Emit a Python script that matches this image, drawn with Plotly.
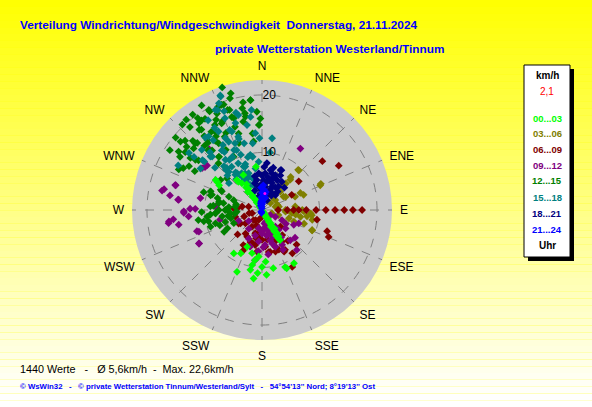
import plotly.graph_objects as go

# ---------------- data (direction in degrees, speed in km/h) ----------------
dir_00_03 = [148, 150, 147, 149, 151, 146, 148, 150, 147, 149, 152, 148, 146, 150, 149, 147, 151, 148, 150, 149,
             328, 326, 329, 325, 327, 330, 324, 328, 326, 322, 327, 325, 329, 323, 320,
             213, 206, 202, 191, 187, 190, 188, 176, 176, 169, 158, 157, 149, 193, 184, 180, 202, 184,
             302, 300, 303, 352, 332, 320]
spd_00_03 = [0.3, 0.6, 0.9, 1.2, 1.5, 1.8, 2.1, 2.4, 2.7, 3.0, 3.3, 3.6, 3.9, 4.2, 4.5, 4.8, 5.1, 5.4, 5.7, 6.1,
             0.4, 0.8, 1.2, 1.6, 2.0, 2.4, 2.8, 3.2, 3.6, 4.0, 4.4, 4.8, 5.2, 5.8, 6.4,
             9.0, 8.4, 11.6, 10.6, 12.0, 9.7, 8.8, 9.0, 11.3, 10.3, 10.7, 11.0, 10.8, 7.7, 8.1, 9.9, 6.9, 11.0,
             9.2, 8.6, 9.6, 7.6, 6.9, 6.8]

dir_03_06 = [42, 43, 39, 67, 66, 68, 58, 53, 79, 90, 96, 100, 98, 96, 90, 107, 51, 27, 112, 108,
             107, 84, 76, 120, 110, 70, 11, 45, 72, 38, 61, 72, 94, 98, 108, 94, 112, 43, 41, 42, 66, 101, 92]
spd_03_06 = [9.4, 7.2, 5.6, 11.0, 7.3, 6.2, 4.4, 2.9, 3.0, 4.1, 5.2, 6.8, 7.9, 8.7, 7.0, 4.9, 1.9, 1.9, 9.4, 1.8,
             3.0, 5.8, 2.4, 4.7, 5.9, 7.7, 3.0, 4.5, 2.8, 2.9, 4.7, 2.8, 4.1, 5.9, 7.7, 8.5, 9.4, 9.4, 7.6, 6.2, 11.2, 8.9, 7.3]

dir_06_09 = [90, 90, 90, 90, 90, 90, 90, 90, 90, 90, 90,
             51, 60, 52, 63, 100, 108, 112,
             211, 196, 198, 166, 164, 160, 157, 150, 145, 148, 208, 200, 209, 191, 180, 162, 150, 190,
             252, 231, 240, 256, 284, 169, 175, 187, 132, 220, 180, 273, 280, 144, 151,
             250, 256, 238, 212, 204, 196, 186, 171, 162, 152, 152, 274, 141,
             200, 215, 225, 185, 170, 155, 140, 135, 205, 192]
spd_06_09 = [2.8, 4.4, 5.5, 6.4, 7.7, 9.4, 11.1, 12.7, 14.3, 15.8, 17.4,
             13.5, 15.4, 8.1, 5.8, 9.7, 11.9, 12.5,
             3.4, 4.2, 1.8, 2.4, 4.2, 6.8, 7.5, 8.0, 9.2, 6.5, 6.9, 5.9, 5.3, 6.2, 5.2, 5.5, 4.7, 3.2,
             1.8, 3.7, 4.7, 4.8, 2.4, 7.4, 6.4, 7.3, 4.3, 2.3, 1.2, 4.9, 3.5, 3.9, 3.0,
             3.3, 2.3, 4.4, 2.1, 7.0, 6.0, 4.7, 7.4, 7.6, 8.2, 11.2, 4.3, 5.6,
             2.8, 5.0, 6.0, 3.8, 5.2, 5.8, 7.0, 8.5, 7.8, 5.0]

dir_09_12 = [281, 286, 279, 277, 269, 271, 265, 262, 260, 264, 252, 242, 281, 271, 307, 319, 305, 309, 282, 286,
             274, 257, 268, 263, 251, 242, 277,
             169, 162, 159, 149, 150, 180, 186, 175, 163, 188, 137, 149, 128, 115, 110, 117, 117, 121, 198, 139, 160, 141,
             32, 185, 170, 155,
             175, 170, 165, 178, 155, 160, 145, 140, 185, 172, 152, 190, 195, 205, 215, 230, 245, 120, 130, 165]
spd_09_12 = [17.7, 15.7, 16.2, 14.6, 13.6, 12.5, 12.8, 16.4, 14.7, 15.5, 11.9, 12.4, 10.9, 11.6, 12.4, 14.0, 12.7, 12.3, 17.4, 15.6,
             8.1, 7.5, 13.6, 16.3, 11.6, 12.4, 14.7,
             3.0, 3.7, 5.0, 5.1, 7.0, 4.1, 5.5, 6.1, 6.1, 8.8, 7.2, 6.1, 5.2, 6.1, 6.8, 2.6, 3.9, 1.7, 6.7, 9.2, 4.3, 3.7,
             12.6, 3.5, 2.4, 4.6,
             3.5, 4.5, 5.5, 6.5, 4.0, 6.8, 5.8, 4.5, 7.2, 7.8, 7.8, 3.2, 4.6, 5.5, 4.0, 3.0, 4.5, 4.8, 7.5, 2.2]

dir_12_15 = [342, 354, 332, 337, 342, 350, 359, 358, 353, 328, 324, 319, 317, 310, 303, 305, 310, 306, 296, 307,
             318, 327, 333, 342, 343, 331, 336, 327, 322, 316, 321, 321, 329, 317, 312, 341, 348,
             315, 325, 330, 320, 312, 308, 300, 318, 326, 335, 340, 345, 350, 310, 303, 298, 323, 329,
             344, 324, 332, 335, 342, 350, 358, 354, 322, 322, 328, 335, 343, 353, 307, 315, 320, 332, 321, 301,
             357, 326, 333, 341, 349, 339,
             287, 287, 274, 266, 279, 261, 270, 264, 254, 292, 245, 295, 312, 263, 252, 277, 261, 289, 266, 306,
             270, 275, 265, 280, 260, 285, 268, 258, 250, 290, 296, 275, 262, 282,
             286, 266, 259, 252, 240, 242, 255, 281, 270]
spd_12_15 = [22.4, 19.2, 19.7, 19.5, 18.3, 17.1, 15.9, 14.8, 13.4, 18.7, 18.7, 19.1, 20.3, 19.6, 19.1, 17.7, 17.1, 15.4, 16.1, 14.5,
             14.0, 13.8, 14.3, 15.2, 16.7, 16.9, 16.9, 16.2, 16.3, 16.2, 15.0, 11.9, 12.2, 11.1, 18.0, 12.3, 15.7,
             17.0, 19.5, 21.0, 20.5, 16.0, 14.0, 13.5, 15.0, 14.5, 18.5, 19.5, 21.0, 19.0, 18.5, 17.0, 15.5, 17.5, 16.0,
             20.2, 20.5, 19.4, 16.6, 17.0, 16.5, 14.8, 19.2, 17.7, 15.4, 15.1, 14.8, 13.9, 12.0, 16.7, 16.4, 13.5, 10.5, 11.9, 14.8,
             17.1, 18.8, 17.6, 18.4, 18.0, 19.6,
             10.6, 9.1, 9.0, 8.1, 7.6, 7.0, 6.4, 5.5, 8.4, 6.2, 5.4, 7.7, 8.2, 9.6, 6.7, 4.7, 11.2, 5.2, 4.4, 8.9,
             7.5, 8.5, 9.0, 6.8, 6.0, 8.0, 10.5, 9.5, 7.8, 9.5, 8.0, 5.8, 4.8, 4.6,
             9.3, 8.1, 10.3, 9.4, 7.6, 6.8, 5.6, 7.6, 6.0]

dir_15_18 = [340, 338, 339, 354, 346, 8, 8, 352, 355, 339, 334, 331, 324, 315, 326, 317, 298, 308, 304, 324,
             331, 337, 345, 325, 333, 339, 331, 323, 340, 343, 351, 331, 356, 319, 319, 335, 344, 329, 325, 342,
             350, 343, 338, 348, 339,
             330, 335, 325, 340, 345, 320, 330, 335, 327, 342, 318, 333, 338, 322, 330, 345, 336, 328, 338, 345,
             332, 326, 320, 315, 312, 310,
             340, 335, 353, 338, 329, 316, 327, 337, 350, 326, 318, 332, 309, 310, 308, 358]
spd_15_18 = [21.2, 20.0, 18.4, 17.5, 17.0, 12.6, 10.1, 11.7, 13.4, 14.6, 13.2, 15.6, 15.8, 14.8, 12.5, 12.7, 16.5, 16.1, 12.9, 10.8,
             10.6, 11.3, 12.0, 9.2, 9.1, 8.1, 7.3, 7.7, 6.8, 5.8, 7.3, 6.0, 8.4, 8.8, 10.1, 4.8, 4.2, 18.2, 14.8, 13.4,
             15.0, 15.8, 17.2, 9.8, 10.3,
             6.5, 7.0, 8.0, 8.5, 9.5, 9.5, 10.5, 11.5, 12.0, 13.0, 13.5, 14.0, 15.0, 16.0, 16.5, 17.5, 19.0, 7.2, 6.2, 5.5,
             5.2, 6.0, 7.0, 8.5, 11.0, 13.5,
             21.0, 19.2, 16.3, 12.5, 13.2, 12.9, 10.4, 8.2, 9.4, 7.7, 9.4, 5.9, 7.4, 13.1, 15.0, 12.5]

dir_18_21 = [355, 5, 15, 350, 3, 15, 27, 352, 8, 23, 35, 354, 17, 31, 0, 27, 12, 6, 25, 21, 35,
             0, 10, 20, 30, 358, 10, 22, 5, 15, 345, 348, 0, 10, 20, 28, 40, 45, 3, 15, 340, 350, 33, 42, 26]
spd_18_21 = [6.4, 6.4, 6.6, 5.3, 5.2, 5.4, 5.8, 4.1, 4.1, 4.4, 5.0, 2.9, 3.0, 3.4, 1.7, 1.9, 7.1, 8.2, 7.65, 6.5, 6.0,
             4.6, 5.0, 5.0, 4.6, 3.5, 3.5, 3.8, 2.3, 2.5, 4.8, 6.0, 6.0, 5.8, 6.0, 6.8, 4.2, 5.5, 7.5, 7.6, 3.6, 2.5, 3.0, 3.5, 7.7]

dir_21_24 = [355, 350, 0, 5, 355, 2, 8, 358, 5, 10, 0, 350, 200, 190, 345, 15, 12, 6, 358, 3]
spd_21_24 = [0.3, 0.6, 1.0, 1.3, 1.5, 1.8, 2.0, 2.2, 2.5, 2.8, 3.0, 1.2, 0.3, 0.5, 0.8, 2.2, 3.2, 3.5, 3.9, 4.3]

current_dir = [10]
current_spd = [2.9]

series_labels = ["00...03", "03...06", "06...09", "09...12", "12...15", "15...18", "18...21", "21...24"]
compass = ["N", "NNE", "NE", "ENE", "E", "ESE", "SE", "SSE", "S", "SSW", "SW", "WSW", "W", "WNW", "NW", "NNW"]
compass_deg = [0, 22.5, 45, 67.5, 90, 112.5, 135, 157.5, 180, 202.5, 225, 247.5, 270, 292.5, 315, 337.5]
radial_ticks = [10, 20]
r_max = 22.6

colors = {
    "00...03": "#00FF00", "03...06": "#808000", "06...09": "#800000", "09...12": "#800080",
    "12...15": "#008000", "15...18": "#008080", "18...21": "#000080", "21...24": "#0000FF",
}
data = {
    "00...03": (dir_00_03, spd_00_03), "03...06": (dir_03_06, spd_03_06),
    "06...09": (dir_06_09, spd_06_09), "09...12": (dir_09_12, spd_09_12),
    "12...15": (dir_12_15, spd_12_15), "15...18": (dir_15_18, spd_15_18),
    "18...21": (dir_18_21, spd_18_21), "21...24": (dir_21_24, spd_21_24),
}
draw_order = ["03...06", "06...09", "09...12", "12...15", "15...18", "00...03", "18...21", "21...24"]

W, H = 592, 407
fig = go.Figure()
for key in draw_order:
    d, s = data[key]
    fig.add_trace(go.Scatterpolar(
        theta=d, r=s, mode="markers", name=key,
        marker=dict(symbol="diamond", size=6, color=colors[key], line=dict(width=0)),
        hoverinfo="skip"))
fig.add_trace(go.Scatterpolar(theta=current_dir, r=current_spd, mode="markers",
                              marker=dict(symbol="circle", size=3, color="#FF00FF"), hoverinfo="skip"))

cx, cy, rad = 262, 210, 130
fig.update_layout(
    width=W, height=H, autosize=False,
    margin=dict(l=0, r=0, t=0, b=0),
    paper_bgcolor="#FFFF00",
    showlegend=False,
    font=dict(family="Arial", size=12, color="black"),
    polar=dict(
        domain=dict(x=[(cx - rad) / W, (cx + rad) / W], y=[1 - (cy + rad) / H, 1 - (cy - rad) / H]),
        bgcolor="#CBCBCB",
        angularaxis=dict(rotation=90, direction="clockwise", tickmode="array",
                         tickvals=compass_deg, ticktext=compass, showline=False,
                         ticks="outside", ticklen=5, tickcolor="rgba(0,0,0,0)",
                         gridcolor="#808080", griddash="dash", gridwidth=1,
                         tickfont=dict(family="Arial", size=12, color="black")),
        radialaxis=dict(range=[0, r_max], tickmode="array", tickvals=radial_ticks,
                        ticktext=[str(v) for v in radial_ticks], showline=False, ticks="",
                        angle=90, tickangle=90, side="clockwise",
                        gridcolor="#808080", griddash="dash", gridwidth=1,
                        tickfont=dict(family="Arial", size=12, color="black")),
    ),
)

# background vertical gradient (yellow -> pale)
shapes = []
n = 60
for i in range(n):
    t = (i + 0.5) / n
    b = int(round(255 * min(1.0, t * 1.02)))
    shapes.append(dict(type="rect", xref="paper", yref="paper", x0=0, x1=1,
                       y0=1 - (i + 1) / n, y1=1 - i / n, layer="below",
                       fillcolor=f"rgb(255,255,{b})", line=dict(width=0)))
# legend box with shadow
bx0, by0, bx1, by1 = 524, 65, 570, 257
shapes.append(dict(type="rect", xref="paper", yref="paper",
                   x0=(bx0 + 4) / W, x1=(bx1 + 4) / W, y0=1 - (by1 + 4) / H, y1=1 - (by0 + 4) / H,
                   fillcolor="black", line=dict(width=0)))
shapes.append(dict(type="rect", xref="paper", yref="paper",
                   x0=bx0 / W, x1=bx1 / W, y0=1 - by1 / H, y1=1 - by0 / H,
                   fillcolor="white", line=dict(color="black", width=1)))
fig.update_layout(shapes=shapes)

def ann(text, x, y, color="black", size=12, bold=False, xanchor="left"):
    fig.add_annotation(text=text, x=x / W, y=1 - y / H, xref="paper", yref="paper",
                       xanchor=xanchor, yanchor="middle", showarrow=False,
                       font=dict(family="Arial", size=size, color=color, weight="bold" if bold else "normal"))

nb = "\u00a0"
ann("Verteilung Windrichtung/Windgeschwindigkeit" + nb * 2 + "Donnerstag, 21.11.2024", 18, 25, "#0000FF", 11.8, True)
ann("private Wetterstation Westerland/Tinnum", 213, 49, "#0000FF", 11.8, True)
ann("1440 Werte" + nb * 3 + "-" + nb * 3 + "Ø 5,6km/h" + nb * 2 + "-" + nb * 2 + "Max. 22,6km/h", 18, 369, "black", 10.8)
ann("© WsWin32" + nb * 3 + "-" + nb * 3 + "© private Wetterstation Tinnum/Westerland/Sylt" + nb * 3 + "-" + nb * 3
    + "54°54'13'' Nord; 8°19'13'' Ost", 18, 386, "#0000FF", 7.8, True)

lx = 547
ann("km/h", lx, 75, "black", 10, True, "center")
ann("2,1", lx, 92, "#FF0000", 10, False, "center")
ys = [119, 134, 149, 165, 181, 197, 213, 229]
for lab, yy in zip(series_labels, ys):
    ann(lab, lx, yy, colors[lab], 9.5, True, "center")
ann("Uhr", lx, 245, "black", 10, True, "center")

fig.write_html("out.html", config={"displayModeBar": False},
               post_script="document.body.style.margin='0';document.body.style.padding='0';")
